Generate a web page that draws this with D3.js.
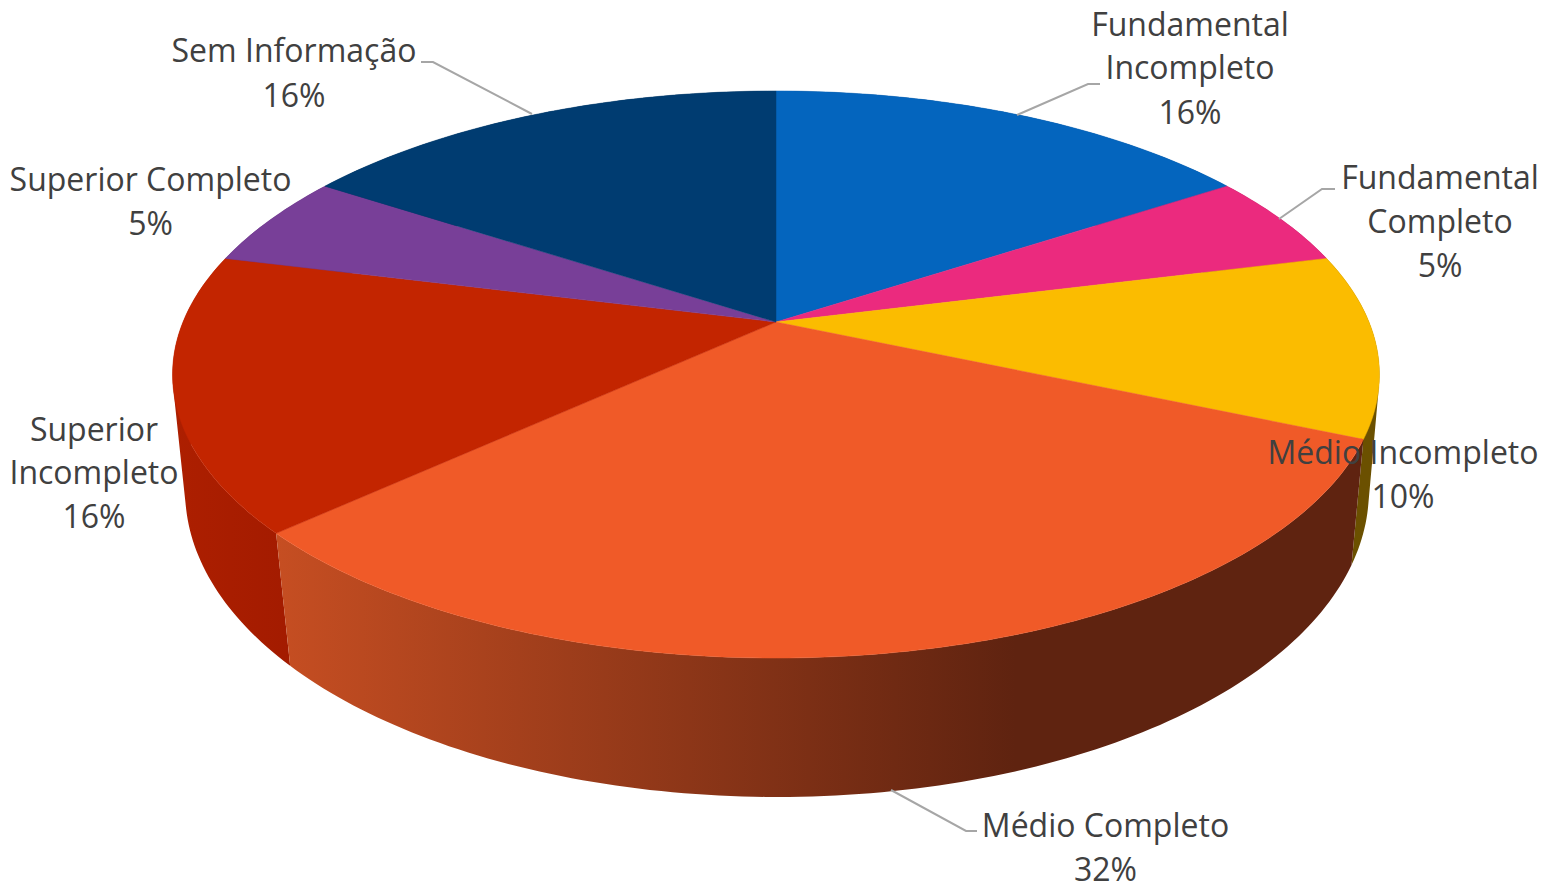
<!DOCTYPE html>
<html><head><meta charset="utf-8">
<script src="https://cdn.jsdelivr.net/npm/d3@7"></script>
<style>html,body{margin:0;padding:0;background:#fff}svg{display:block}text{font-family:"Open Sans",sans-serif;font-size:32px;fill:#404040}</style>
</head><body><svg id="c" width="1543" height="883"></svg>
<script>
const categories = ["Fundamental Incompleto","Fundamental Completo","Médio Incompleto","Médio Completo","Superior Incompleto","Superior Completo","Sem Informação"];
const shares = [15.8,5.3,10.4,31.7,15.7,5.3,15.8];
const topColors = ["#0465BE","#EB2A7E","#FBBC00","#F05A28","#C32500","#783F98","#003C71"];
const wallColors = [["#02407a","#02407a"],["#8a184a","#8a184a"],["#6b5000","#6b5000"],["#C64E22","#5F2310"],["#AD1F00","#A31B00"],["#4d2761","#4d2761"],["#002648","#002648"]];
const labelLines = [["Fundamental","Incompleto"],["Fundamental","Completo"],["Médio Incompleto"],["Médio Completo"],["Superior","Incompleto"],["Superior Completo"],["Sem Informação"]];
const labelCx = [1190,1440,1403,1105.5,94,150.5,294];
const labelBaselines = [[36,79,124],[189,233,277],[464,508],[837,881],[441,484,528],[191,235],[62,107]];
const leaders = [[[1017,115],[1088,84],[1100,84]],[[1279,219],[1322,189],[1335,189]],null,[[891,790],[966,831],[977,831]],null,null,[[532,114],[433,62],[421,62]]];

const total = d3.sum(shares), pct = d3.format(".0%");
const arcs = d3.pie().sort(null).value(d=>d)(shares);

// perspective projection of a unit disc (u = sin a, v = -cos a)
const topDisc = {cx:776, cy:322, a:593, b:273.8, kx:0.1852, ky:0.1852};
const lowDisc = {cx:777, cy:436.6, a:583, b:302.7, kx:0.173, ky:0.16};
const project = (d,ang)=>{const u=Math.sin(ang),v=-Math.cos(ang);return [d.cx+d.a*u/(1-d.kx*v),d.cy+d.b*v/(1-d.ky*v)];};
const rim = (d,s,e)=>{const n=Math.max(4,Math.ceil((e-s)*60));return d3.range(n+1).map(i=>project(d,s+(e-s)*i/n));};
const line = d3.line();
const svg = d3.select("#c");
const defs = svg.append("defs");
wallColors.forEach((c,i)=>{const g=defs.append("linearGradient").attr("id","w"+i);
  if(i===3){g.attr("x1",0).attr("x2",0.68);}
  g.append("stop").attr("offset",0).attr("stop-color",c[0]);
  g.append("stop").attr("offset",1).attr("stop-color",c[1]);});

// walls, far ones first; each is a union of same-wound strips so the outline follows the tangent between the two rims
const order = d3.range(arcs.length).sort((p,q)=>Math.abs(Math.PI-(arcs[q].startAngle+arcs[q].endAngle)/2)-Math.abs(Math.PI-(arcs[p].startAngle+arcs[p].endAngle)/2));
const wallPath = i=>{
  const s=arcs[i].startAngle,e=arcs[i].endAngle,t=rim(topDisc,s,e),b=rim(lowDisc,s,e);
  return d3.range(t.length-1).map(j=>{
    const q=[t[j],t[j+1],b[j+1],b[j]];
    if(d3.polygonArea(q)<0) q.reverse();
    return line(q)+"Z";
  }).join("");
};
svg.append("g").selectAll("path").data(order).join("path")
  .attr("d",wallPath).attr("fill",i=>`url(#w${i})`);

// top face
svg.append("g").selectAll("path").data(arcs).join("path")
  .attr("d",d=>line([[topDisc.cx,topDisc.cy]].concat(rim(topDisc,d.startAngle,d.endAngle)))+"Z")
  .attr("fill",(d,i)=>topColors[i]).attr("stroke",(d,i)=>topColors[i]).attr("stroke-width",0.5);

// leaders
svg.append("g").selectAll("path").data(leaders.filter(Boolean)).join("path")
  .attr("d",line).attr("fill","none").attr("stroke","#A6A6A6").attr("stroke-width",2);

// labels
const lg = svg.append("g").selectAll("text").data(categories).join("text").attr("text-anchor","middle");
lg.each(function(c,i){
  const t=d3.select(this);
  labelLines[i].concat(pct(shares[i]/total)).forEach((s,j)=>{
    t.append("tspan").attr("x",labelCx[i]).attr("y",labelBaselines[i][j]).text(s);
  });
});
</script></body></html>
